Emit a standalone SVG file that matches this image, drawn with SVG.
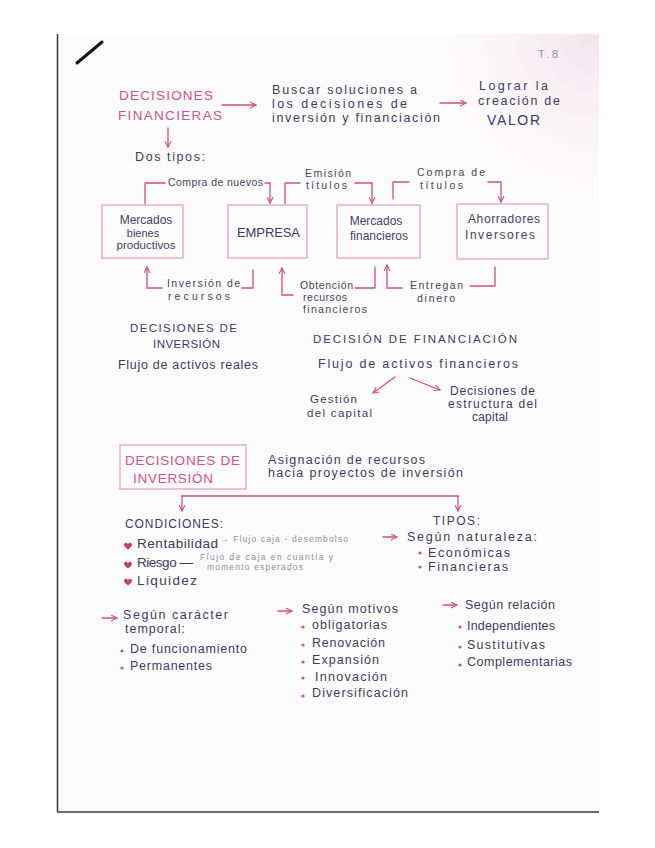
<svg xmlns="http://www.w3.org/2000/svg" width="655" height="848" viewBox="0 0 655 848">
<defs>
<style>
.t{font-family:"Liberation Sans",Arial,sans-serif;font-size:12.5px;fill:#3d3b5e}
.c{font-family:"Liberation Sans",Arial,sans-serif;font-size:12px;fill:#45435f}
.lb{font-family:"Liberation Sans",Arial,sans-serif;font-size:10.5px;fill:#45435f}
.p{font-family:"Liberation Sans",Arial,sans-serif;font-size:13.5px;fill:#d0528a}
.s{font-family:"Liberation Sans",Arial,sans-serif;font-size:8.5px;fill:#8e8d9c}
.box{fill:none;stroke:#e69ab5;stroke-width:1.2}
.ln{fill:none;stroke:#cf4f82;stroke-width:1.3;stroke-linecap:round;stroke-linejoin:round}
.arr{fill:none;stroke:#cf4f82;stroke-width:1.3;stroke-linecap:round;marker-end:url(#ah)}
.dot{fill:#d0528a}
</style>
<marker id="ah" viewBox="0 0 10 10" refX="9" refY="5" markerWidth="7" markerHeight="7" orient="auto" markerUnits="userSpaceOnUse">
<path d="M1,1 L9,5 L1,9" fill="none" stroke="#cf4f82" stroke-width="1.6" stroke-linecap="round" stroke-linejoin="round"/>
</marker>
<path id="heart" d="M0,-1.5 C-0.6,-4 -4,-4 -4,-1.2 C-4,1 -1.5,2 0,3.5 C1.5,2 4,1 4,-1.2 C4,-4 0.6,-4 0,-1.5Z" fill="#c83a76"/>
<radialGradient id="tint" cx="599" cy="34" r="190" gradientUnits="userSpaceOnUse">
<stop offset="0" stop-color="#f2dfe9" stop-opacity="0.9"/>
<stop offset="1" stop-color="#fcfbfb" stop-opacity="0"/>
</radialGradient>
</defs>

<g id="page">
<rect x="57" y="34" width="542" height="778" fill="#fcfbfb"/>
<rect x="57" y="34" width="542" height="778" fill="url(#tint)"/>
<line x1="57.5" y1="34" x2="57.5" y2="812" stroke="#3a3a3a" stroke-width="1.5"/>
<line x1="57" y1="812" x2="599" y2="812" stroke="#3a3a3a" stroke-width="1.5"/>
<line x1="77" y1="63" x2="102" y2="42" stroke="#161616" stroke-width="3" stroke-linecap="round"/>
<text x="538" y="58" class="s" style="font-size:11px" textLength="20">T.8</text>
</g>

<g id="connectors">
<path class="arr" d="M222,105 H256"/>
<path class="arr" d="M440,103 H466"/>
<path class="arr" d="M168,128 V147"/>
<path class="ln" d="M145,204 V183 H165"/>
<path class="arr" d="M265,183 H270 V203"/>
<path class="ln" d="M285,204 V183 H300"/>
<path class="arr" d="M355,183 H372 V203"/>
<path class="ln" d="M393,199 V182 H409"/>
<path class="arr" d="M488,182 H501 V202"/>
<path class="ln" d="M253,270 V288 H242"/>
<path class="arr" d="M162,288 H147 V267"/>
<path class="ln" d="M355,288 H375 V267"/>
<path class="arr" d="M293,295 H282 V268"/>
<path class="ln" d="M470,286 H495 V267"/>
<path class="arr" d="M402,288 H387 V265"/>
<path class="arr" d="M395,377 L373,393"/>
<path class="arr" d="M410,378 L440,390"/>
<path class="ln" d="M182,496 H458"/>
<path class="arr" d="M182,496 V511"/>
<path class="arr" d="M458,496 V511"/>
<path class="arr" d="M383,537 H397"/>
<path class="arr" d="M102,618 H117"/>
<path class="arr" d="M278,611 H292"/>
<path class="arr" d="M443,605 H457"/>
</g>

<g id="decisiones-financieras">
<text x="119" y="100" class="p" textLength="94">DECISIONES</text>
<text x="118" y="120" class="p" textLength="104">FINANCIERAS</text>
</g>
<g id="buscar-soluciones">
<text x="272" y="94" class="t" textLength="145">Buscar soluciones a</text>
<text x="272" y="108" class="t" textLength="135">los decisiones de</text>
<text x="272" y="122" class="t" textLength="168">inversión y financiación</text>
</g>
<g id="lograr-valor">
<text x="479" y="90" class="t" textLength="69">Lograr la</text>
<text x="478" y="105" class="t" textLength="82">creación de</text>
<text x="487" y="125" class="t" style="font-size:14px" textLength="53">VALOR</text>
</g>
<g id="dos-tipos">
<text x="135" y="161" class="t" textLength="70">Dos tipos:</text>
</g>

<g id="mercados-bienes">
<rect class="box" x="102" y="205" width="81" height="53"/>
<text x="146" y="224" class="c" text-anchor="middle">Mercados</text>
<text x="143" y="237" class="c" text-anchor="middle" style="font-size:11px">bienes</text>
<text x="146" y="249" class="c" text-anchor="middle" style="font-size:11.5px">productivos</text>
</g>
<g id="empresa">
<rect class="box" x="228" y="205" width="79" height="53"/>
<text x="237" y="237" class="t" style="font-size:13px" textLength="63">EMPRESA</text>
</g>
<g id="mercados-financieros">
<rect class="box" x="337" y="205" width="83" height="53"/>
<text x="376" y="225" class="c" text-anchor="middle">Mercados</text>
<text x="379" y="240" class="c" text-anchor="middle">financieros</text>
</g>
<g id="ahorradores-inversores">
<rect class="box" x="457" y="204" width="91" height="55"/>
<text x="468" y="223" class="c" textLength="72">Ahorradores</text>
<text x="465" y="239" class="c" textLength="70">Inversores</text>
</g>

<g id="label-compra-nuevos"><text x="168" y="186" class="lb" textLength="95">Compra de nuevos</text></g>
<g id="label-emision"><text x="305" y="177" class="lb" textLength="46">Emisión</text><text x="306" y="189" class="lb" textLength="41">títulos</text></g>
<g id="label-compra-titulos"><text x="417" y="176" class="lb" textLength="68">Compra de</text><text x="420" y="189" class="lb" textLength="43">títulos</text></g>
<g id="label-inversion-recursos"><text x="167" y="287" class="lb" textLength="73">Inversión de</text><text x="168" y="300" class="lb" textLength="62">recursos</text></g>
<g id="label-obtencion"><text x="300" y="289" class="lb" textLength="53">Obtención</text><text x="303" y="301" class="lb" textLength="44">recursos</text><text x="303" y="313" class="lb" textLength="64">financieros</text></g>
<g id="label-entregan"><text x="410" y="289" class="lb" textLength="53">Entregan</text><text x="417" y="302" class="lb" textLength="38">dinero</text></g>

<g id="decisiones-inversion-tit">
<text x="130" y="332" class="t" style="font-size:11.5px" textLength="107">DECISIONES DE</text>
<text x="153" y="348" class="t" style="font-size:11.5px" textLength="67">INVERSIÓN</text>
<text x="118" y="369" class="t" textLength="140">Flujo de activos reales</text>
</g>
<g id="decision-financiacion">
<text x="313" y="343" class="t" style="font-size:11.5px" textLength="204">DECISIÓN DE FINANCIACIÓN</text>
<text x="318" y="368" class="t" textLength="200">Flujo de activos financieros</text>
</g>
<g id="gestion-capital">
<text x="310" y="403" class="t" style="font-size:11.5px" textLength="47">Gestión</text>
<text x="307" y="417" class="t" style="font-size:11.5px" textLength="65">del capital</text>
</g>
<g id="estructura-capital">
<text x="450" y="395" class="t" style="font-size:12px" textLength="85">Decisiones de</text>
<text x="448" y="408" class="t" style="font-size:12px" textLength="89">estructura del</text>
<text x="472" y="421" class="t" style="font-size:12px" textLength="36">capital</text>
</g>

<g id="decisiones-inversion">
<rect class="box" x="120" y="445" width="126" height="44"/>
<text x="125" y="465" class="p" textLength="115">DECISIONES DE</text>
<text x="133" y="483" class="p" textLength="80">INVERSIÓN</text>
</g>
<g id="asignacion">
<text x="268" y="464" class="t" textLength="157">Asignación de recursos</text>
<text x="268" y="477" class="t" textLength="195">hacia proyectos de inversión</text>
</g>

<g id="condiciones">
<text x="125" y="528" class="t" style="font-size:12px" textLength="98">CONDICIONES:</text>
<use href="#heart" x="128" y="546"/>
<text x="137" y="548" class="t" style="font-size:13.5px" textLength="81">Rentabilidad</text>
<text x="220" y="542" class="s" textLength="128">→ Flujo caja - desembolso</text>
<use href="#heart" x="128" y="565"/>
<text x="137" y="567" class="t" style="font-size:13.5px" textLength="56">Riesgo —</text>
<text x="200" y="560" class="s" textLength="133">Flujo de caja en cuantía y</text>
<text x="207" y="570" class="s" textLength="96">momento esperados</text>
<use href="#heart" x="128" y="582"/>
<text x="137" y="585" class="t" style="font-size:13.5px" textLength="60">Liquidez</text>
</g>

<g id="tipos">
<text x="433" y="525" class="t" style="font-size:12px" textLength="47">TIPOS:</text>
<text x="407" y="541" class="t" textLength="130">Según naturaleza:</text>
<circle class="dot" cx="420" cy="553" r="1.6"/>
<text x="428" y="557" class="t" textLength="82">Económicas</text>
<circle class="dot" cx="420" cy="567" r="1.6"/>
<text x="428" y="571" class="t" textLength="80">Financieras</text>
</g>

<g id="segun-caracter">
<text x="123" y="619" class="t" textLength="105">Según carácter</text>
<text x="125" y="633" class="t" textLength="60">temporal:</text>
<circle class="dot" cx="122" cy="651" r="1.6"/>
<text x="130" y="653" class="t" textLength="117">De funcionamiento</text>
<circle class="dot" cx="122" cy="668" r="1.6"/>
<text x="130" y="670" class="t" textLength="82">Permanentes</text>
</g>

<g id="segun-motivos">
<text x="302" y="613" class="t" textLength="96">Según motivos</text>
<circle class="dot" cx="303" cy="627" r="1.6"/>
<text x="312" y="629" class="t" textLength="75">obligatorias</text>
<circle class="dot" cx="303" cy="645" r="1.6"/>
<text x="312" y="647" class="t" textLength="73">Renovación</text>
<circle class="dot" cx="303" cy="662" r="1.6"/>
<text x="312" y="664" class="t" textLength="67">Expansión</text>
<circle class="dot" cx="303" cy="678" r="1.6"/>
<text x="315" y="681" class="t" textLength="72">Innovación</text>
<circle class="dot" cx="303" cy="696" r="1.6"/>
<text x="312" y="697" class="t" textLength="96">Diversificación</text>
</g>

<g id="segun-relacion">
<text x="465" y="609" class="t" textLength="90">Según relación</text>
<circle class="dot" cx="460" cy="627" r="1.6"/>
<text x="467" y="630" class="t" textLength="88">Independientes</text>
<circle class="dot" cx="460" cy="647" r="1.6"/>
<text x="467" y="649" class="t" textLength="78">Sustitutivas</text>
<circle class="dot" cx="460" cy="665" r="1.6"/>
<text x="467" y="666" class="t" textLength="105">Complementarias</text>
</g>
</svg>
